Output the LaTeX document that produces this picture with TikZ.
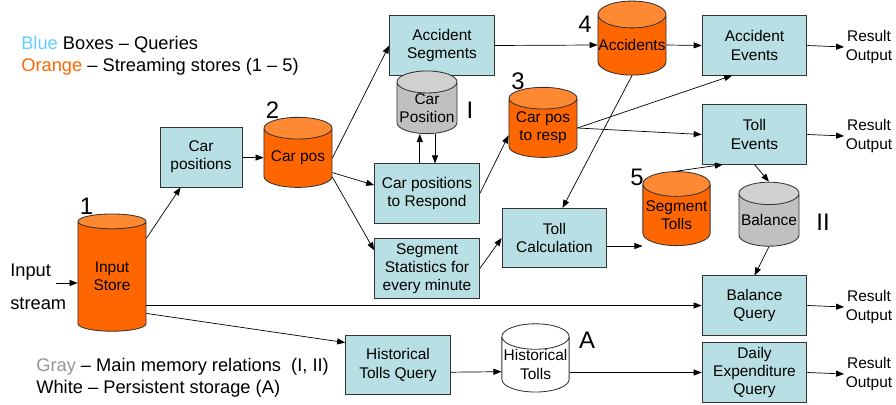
\documentclass[tikz,border=0pt]{standalone}
\usepackage{fontspec}
\setmainfont{Liberation Sans}
\usepackage{xcolor}
\usepackage{tikz}
\usetikzlibrary{arrows.meta,positioning,shapes.geometric}
\definecolor{qblue}{RGB}{184,223,227}
\definecolor{sorange}{RGB}{255,102,0}
\definecolor{sorangetop}{RGB}{255,136,51}
\definecolor{mgray}{RGB}{192,192,192}
\definecolor{mgraytop}{RGB}{208,208,208}
\definecolor{legblue}{RGB}{102,204,255}
\definecolor{leggray}{RGB}{150,150,150}

\begin{document}
\begin{tikzpicture}[
  x=0.025cm, y=-0.025cm,
  query/.style={draw=black!80, line width=0.6pt, fill=qblue, align=center, inner sep=0pt, minimum width=2.62cm, minimum height=1.48cm, font=\fontsize{11}{13}\selectfont},
  store/.style={cylinder, shape border rotate=90, aspect=0.4, draw=black!80, line width=0.6pt, align=center, inner sep=0pt, cylinder uses custom fill, font=\fontsize{11}{13}\selectfont},
  stream/.style={store, cylinder body fill=sorange, cylinder end fill=sorangetop},
  memory/.style={store, cylinder body fill=mgray, cylinder end fill=mgraytop},
  disk/.style={store, cylinder body fill=white, cylinder end fill=white},
  tag/.style={font=\fontsize{17}{17}\selectfont, inner sep=0pt},
  result/.style={align=center, inner sep=1pt, font=\fontsize{11}{13.5}\selectfont},
  legend/.style={align=left, inner sep=0pt, anchor=west, font=\fontsize{13}{15.6}\selectfont},
  arrow/.style={-{Triangle[length=2mm, width=1.5mm]}, line width=0.5pt}
]
\useasboundingbox (0,0) rectangle (896,405);

\node[legend] (legtop) at (21,56) {\textcolor{legblue}{Blue} Boxes -- Queries\\\textcolor{sorange}{Orange} -- Streaming stores (1 -- 5)};
\node[legend] (legbot) at (36,378) {\textcolor{leggray}{Gray} -- Main memory relations\ \ (I, II)\\White -- Persistent storage (A)};
\node[legend, font=\fontsize{13}{23.5}\selectfont] (inlabel) at (10,287) {Input\\stream};

\node[stream, minimum width=1.7cm, minimum height=2.93cm] (inputstore) at (112,276.5) {Input\\Store};
\node[query, minimum width=2.05cm, minimum height=1.5cm] (carposbox) at (201,157) {Car\\positions};
\node[stream, minimum width=1.7cm, minimum height=1.75cm] (carpos) at (298,158) {Car pos};
\node[query] (accseg) at (442,45.5) {Accident\\Segments};
\node[memory, minimum width=1.5cm, minimum height=1.25cm] (carposition) at (427,108) {Car\\Position};
\node[query] (respond) at (427,193.5) {Car positions\\to Respond};
\node[query] (segstat) at (427,268.5) {Segment\\Statistics for\\every minute};
\node[stream, minimum width=1.7cm, minimum height=1.75cm] (carposresp) at (543,128) {Car pos\\to resp};
\node[stream, minimum width=1.7cm, minimum height=1.85cm] (accidents) at (632,45) {Accidents};
\node[query] (tollcalc) at (554.5,238) {Toll\\Calculation};
\node[stream, minimum width=1.68cm, minimum height=1.85cm] (segtolls) at (676.5,215) {Segment\\Tolls};
\node[memory, minimum width=1.5cm, minimum height=1.6cm] (balance) at (769,220) {Balance};
\node[query] (accevents) at (754.5,45.5) {Accident\\Events};
\node[query] (tollevents) at (754.5,134.5) {Toll\\Events};
\node[query] (balquery) at (754.5,305.5) {Balance\\Query};
\node[query] (dailyexp) at (754.5,372.5) {Daily\\Expenditure\\Query};
\node[query] (histquery) at (398,365) {Historical\\Tolls Query};
\node[disk, minimum width=1.68cm, minimum height=1.43cm] (histtolls) at (535.5,364.5) {Historical\\Tolls};

\node[result] (res1) at (869,47) {Result\\Output};
\node[result] (res2) at (869,136) {Result\\Output};
\node[result] (res3) at (869,307) {Result\\Output};
\node[result] (res4) at (869,374) {Result\\Output};

\node[tag] (num1) at (86.5,206) {1};
\node[tag] (num2) at (272.5,110) {2};
\node[tag] (num3) at (518,81) {3};
\node[tag] (num4) at (585,24) {4};
\node[tag] (num5) at (637,177.5) {5};
\node[tag] (numI) at (470,110) {I};
\node[tag] (numII) at (823,222) {II};
\node[tag] (numA) at (587,340) {A};

\coordinate (instart) at (56,283);
\draw[arrow] (instart) -- (instart -| inputstore.west);
\draw[arrow] (inputstore.48) -- (carposbox);
\draw[arrow] (carposbox) -- (carpos);
\draw[arrow] (carpos.east) -- (accseg.west);
\draw[arrow] (carpos.-23) -- (respond.171);
\draw[arrow] (carpos.-29) -- (segstat.161);
\draw[arrow] ([xshift=-0.18cm]respond.north) -- ([xshift=-0.18cm]carposition.south);
\draw[arrow] ([xshift=0.2cm]carposition.south) -- ([xshift=0.2cm]respond.north);
\draw[arrow] (respond.east) -- (carposresp.192);
\draw[arrow] (segstat.east) -- (tollcalc.west);
\draw[arrow] (accseg.east) -- (accidents.west);
\draw[arrow] (accidents.east) -- (accevents.west);
\draw[arrow] (accidents.south) -- ([xshift=0.2cm]tollcalc.north);
\draw[arrow] (carposresp.east) -- ([xshift=-0.56cm]accevents.south);
\draw[arrow] (carposresp.east) -- (tollevents.west);
\draw[arrow] ([yshift=-0.2cm]tollcalc.east) -- ([yshift=-0.2cm]tollcalc.east -| segtolls.west);
\draw[arrow] (segtolls.north) -- ([xshift=-0.79cm]tollevents.south);
\draw[arrow] (tollevents.south) -- (balance.north);
\draw[arrow] (balance.south) -- (balquery.north);
\draw[arrow] (inputstore.east |- balquery.west) -- (balquery.west);
\draw[arrow] (inputstore.-47) -- (histquery.157);
\draw[arrow] ([yshift=-0.18cm]histquery.east) -- ([yshift=-0.18cm]histtolls.west);
\draw[arrow] (histtolls.east |- dailyexp.west) -- (dailyexp.west);
\draw[arrow] (accevents.east) -- (res1.west);
\draw[arrow] (tollevents.east) -- (res2.west);
\draw[arrow] (balquery.east) -- (res3.west);
\draw[arrow] (dailyexp.east) -- (res4.west);
\end{tikzpicture}
\end{document}
